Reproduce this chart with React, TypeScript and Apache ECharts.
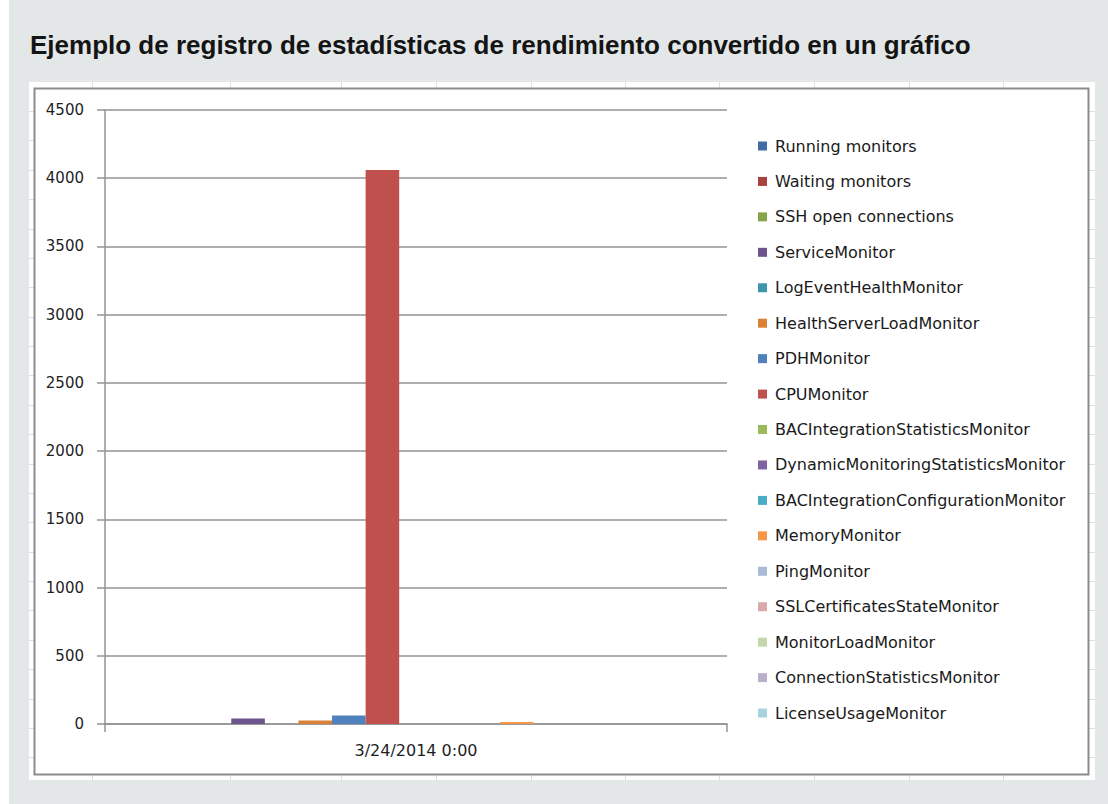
import React, { useEffect, useRef } from "react";
import * as echarts from "echarts";

// Chart data
const categories = ["3/24/2014 0:00"];

const seriesNames = [
  "Running monitors",
  "Waiting monitors",
  "SSH open connections",
  "ServiceMonitor",
  "LogEventHealthMonitor",
  "HealthServerLoadMonitor",
  "PDHMonitor",
  "CPUMonitor",
  "BACIntegrationStatisticsMonitor",
  "DynamicMonitoringStatisticsMonitor",
  "BACIntegrationConfigurationMonitor",
  "MemoryMonitor",
  "PingMonitor",
  "SSLCertificatesStateMonitor",
  "MonitorLoadMonitor",
  "ConnectionStatisticsMonitor",
  "LicenseUsageMonitor",
];

const seriesValues = [0, 0, 0, 40, 0, 25, 62, 4060, 0, 0, 0, 15, 0, 0, 0, 0, 0];

const seriesColors = [
  "#416aa6",
  "#a8423f",
  "#86a44a",
  "#6e548d",
  "#3d96ae",
  "#da8137",
  "#4f81bd",
  "#c0504d",
  "#9bbb59",
  "#8064a2",
  "#4bacc6",
  "#f79646",
  "#aabad7",
  "#d9aaa9",
  "#c6d6ac",
  "#bab0c9",
  "#a9d4df",
];

const yMin = 0;
const yMax = 4500;
const yStep = 500;

const titleText =
  "Ejemplo de registro de estadísticas de rendimiento convertido en un gráfico";

// Spreadsheet cell borders peeking around the chart frame
const sheetColumns = [92, 230, 341, 436, 531, 625, 719, 814, 909, 1003];
const sheetRowTop = 111;
const sheetRowHeight = 29.38;
const sheetRowCount = 23;

export default function App() {
  const ref = useRef<HTMLDivElement>(null);

  useEffect(() => {
    if (!ref.current) return;
    const chart = echarts.init(ref.current, null, { renderer: "svg" });

    const sheetLines: any[] = [];
    sheetColumns.forEach((x) => {
      sheetLines.push({
        type: "line",
        z: -9,
        shape: { x1: x + 0.5, y1: 82, x2: x + 0.5, y2: 780 },
        style: { stroke: "#dcdfe0", lineWidth: 1 },
      });
    });
    for (let i = 0; i < sheetRowCount; i++) {
      const y = Math.round(sheetRowTop + i * sheetRowHeight) + 0.5;
      sheetLines.push({
        type: "line",
        z: -9,
        shape: { x1: 29, y1: y, x2: 1095, y2: y },
        style: { stroke: "#dcdfe0", lineWidth: 1 },
      });
    }

    const option: any = {
      animation: false,
      backgroundColor: "#ffffff",
      graphic: [
        {
          type: "rect",
          z: -10,
          shape: { x: 9, y: 0, width: 1099, height: 804 },
          style: { fill: "#e3e7e8" },
        },
        {
          type: "text",
          z: 5,
          x: 30,
          y: 32,
          style: {
            text: titleText,
            font: "bold 26px 'Liberation Sans', Arial, sans-serif",
            fill: "#141414",
          },
        },
        {
          type: "rect",
          z: -9.5,
          shape: { x: 29, y: 82, width: 1066, height: 698 },
          style: { fill: "#ffffff" },
        },
        ...sheetLines,
        {
          type: "rect",
          z: -8,
          shape: { x: 34.5, y: 88.5, width: 1054, height: 686 },
          style: { fill: "#ffffff", stroke: "#8c8c8c", lineWidth: 2 },
        },
      ],
      grid: {
        left: 105,
        top: 110,
        width: 622,
        height: 614,
        containLabel: false,
      },
      legend: {
        orient: "vertical",
        left: 753,
        top: 131,
        icon: "rect",
        itemWidth: 9,
        itemHeight: 9,
        itemGap: 15.44,
        selectedMode: false,
        data: seriesNames,
        textStyle: {
          fontFamily: "'DejaVu Sans', sans-serif",
          fontSize: 16,
          lineHeight: 20,
          color: "#1a1a1a",
          padding: [0, 0, 0, 3],
        },
      },
      xAxis: {
        type: "category",
        data: categories,
        boundaryGap: true,
        axisLine: { show: true, lineStyle: { color: "#939393", width: 1.5 } },
        axisTick: {
          show: true,
          length: 8,
          alignWithLabel: false,
          lineStyle: { color: "#939393", width: 1.5 },
        },
        axisLabel: {
          margin: 18,
          fontFamily: "'DejaVu Sans', sans-serif",
          fontSize: 16,
          color: "#1f1f1f",
        },
        splitLine: { show: false },
      },
      yAxis: {
        type: "value",
        min: yMin,
        max: yMax,
        interval: yStep,
        axisLine: { show: true, lineStyle: { color: "#939393", width: 1.5 } },
        axisTick: {
          show: true,
          length: 8,
          lineStyle: { color: "#939393", width: 1.5 },
        },
        axisLabel: {
          margin: 21,
          fontFamily: "'DejaVu Sans', sans-serif",
          fontSize: 15,
          color: "#1f1f1f",
          formatter: (v: number) => String(v),
        },
        splitLine: { show: true, lineStyle: { color: "#939393", width: 1.5 } },
      },
      series: seriesNames.map((name, i) => ({
        name,
        type: "bar",
        data: [seriesValues[i]],
        barGap: "0%",
        barCategoryGap: "8.2%",
        itemStyle: { color: seriesColors[i] },
      })),
    };

    chart.setOption(option);
    return () => chart.dispose();
  }, []);

  return (
    <div
      ref={ref}
      style={{ position: "absolute", left: 0, top: 0, width: 1108, height: 804 }}
    />
  );
}
